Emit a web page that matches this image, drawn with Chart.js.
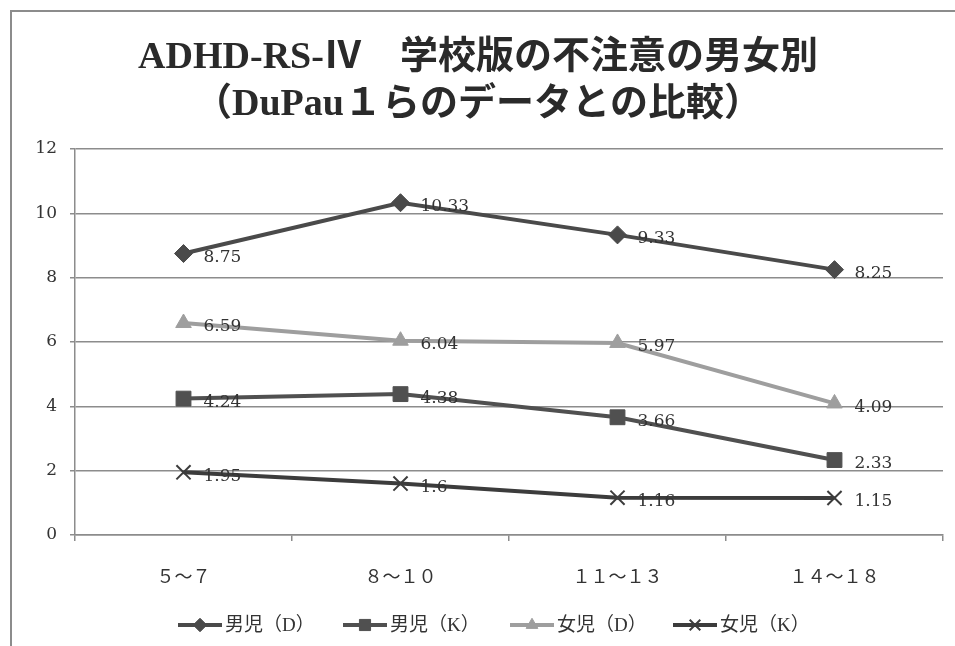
<!DOCTYPE html>
<html>
<head>
<meta charset="utf-8">
<script src="https://cdn.jsdelivr.net/npm/chart.js@4/dist/chart.umd.min.js"></script>
<style>
  html, body { margin: 0; padding: 0; background: #fff; }
  #wrap { width: 955px; height: 646px; position: relative; }
</style>
</head>
<body>
<div id="wrap"><canvas id="c" width="955" height="646"></canvas></div>
<script>
// Age bands (x axis)
const categories = ['５～７', '８～１０', '１１～１３', '１４～１８'];

// Inattention scores by group
const boysD  = [8.75, 10.33, 9.33, 8.25];
const boysK  = [4.24, 4.38, 3.66, 2.33];
const girlsD = [6.59, 6.04, 5.97, 4.09];
const girlsK = [1.95, 1.6, 1.16, 1.15];

const seriesNames = ['男児（D）', '男児（K）', '女児（D）', '女児（K）'];
const yTicks = [0, 2, 4, 6, 8, 10, 12];

const titleLines = ['ADHD-RS-Ⅳ　学校版の不注意の男女別', '（DuPau１らのデータとの比較）'];

const SERIF = "'Liberation Serif', 'Noto Sans CJK JP', serif";
const NUM = "'DejaVu Serif', 'Noto Sans CJK JP', serif";

// Frame, title, value labels and legend
const decor = {
  id: 'decor',
  beforeDraw(chart) {
    const ctx = chart.ctx;
    ctx.save();
    ctx.fillStyle = '#fff';
    ctx.fillRect(0, 0, chart.width, chart.height);
    ctx.strokeStyle = '#8c8c8c';
    ctx.lineWidth = 2;
    ctx.beginPath();
    ctx.moveTo(11, chart.height);
    ctx.lineTo(11, 11);
    ctx.lineTo(chart.width, 11);
    ctx.stroke();
    ctx.restore();
  },
  afterDatasetsDraw(chart) {
    const ctx = chart.ctx;
    ctx.save();
    // value labels
    ctx.font = '17px ' + NUM;
    ctx.fillStyle = '#333';
    ctx.textAlign = 'left';
    ctx.textBaseline = 'middle';
    chart.data.datasets.forEach((ds, i) => {
      const meta = chart.getDatasetMeta(i);
      meta.data.forEach((pt, j) => {
        ctx.fillText(String(ds.data[j]), pt.x + 20, pt.y + 4);
      });
    });
    ctx.restore();
  },
  afterDraw(chart) {
    const ctx = chart.ctx;
    ctx.save();
    // title
    ctx.fillStyle = '#2a2a2a';
    ctx.textAlign = 'center';
    ctx.textBaseline = 'middle';
    ctx.font = 'bold 38px ' + SERIF;
    ctx.fillText(titleLines[0], 478, 58);
    ctx.fillText(titleLines[1], 478, 105);

    // legend
    const items = chart.data.datasets;
    const starts = [178, 343, 510, 673];
    const ly = 625;
    ctx.font = '19px ' + SERIF;
    ctx.textAlign = 'left';
    items.forEach((ds, i) => {
      const x0 = starts[i];
      ctx.strokeStyle = ds.borderColor;
      ctx.lineWidth = 4;
      ctx.beginPath();
      ctx.moveTo(x0, ly);
      ctx.lineTo(x0 + 44, ly);
      ctx.stroke();
      ctx.fillStyle = ds.pointBackgroundColor;
      ctx.strokeStyle = ds.pointBorderColor;
      ctx.lineWidth = ds.pointBorderWidth;
      Chart.helpers.drawPoint(ctx, {
        pointStyle: ds.pointStyle,
        radius: ds.pointRadius * 0.75,
        rotation: 0,
        borderWidth: ds.pointBorderWidth
      }, x0 + 22, ly);
      ctx.fillStyle = '#333';
      ctx.fillText(ds.label, x0 + 47, ly + 1);
    });
    ctx.restore();
  }
};

function series(label, data, color, style, radius) {
  return {
    label, data,
    borderColor: color,
    backgroundColor: color,
    pointBackgroundColor: color,
    pointBorderColor: color,
    pointStyle: style,
    pointRadius: radius,
    pointHoverRadius: radius,
    pointBorderWidth: style === 'crossRot' ? 2 : 1,
    borderWidth: 4,
    tension: 0,
    fill: false
  };
}

new Chart(document.getElementById('c'), {
  type: 'line',
  data: {
    labels: categories,
    datasets: [
      series(seriesNames[0], boysD,  '#4a4a4a', 'rectRot', 9),
      series(seriesNames[1], boysK,  '#505050', 'rect', 10.5),
      series(seriesNames[2], girlsD, '#9e9e9e', 'triangle', 9),
      series(seriesNames[3], girlsK, '#3c3c3c', 'crossRot', 10)
    ]
  },
  options: {
    responsive: false,
    animation: false,
    devicePixelRatio: 1,
    layout: { padding: { top: 149, left: 10, right: 11, bottom: 0 } },
    plugins: {
      legend: { display: false },
      title: { display: false },
      tooltip: { enabled: false }
    },
    scales: {
      x: {
        type: 'category',
        offset: true,
        grid: {
          offset: true,
          drawOnChartArea: false,
          drawTicks: true,
          tickLength: 6,
          color: '#8c8c8c',
          lineWidth: 1.5
        },
        border: { color: '#8c8c8c', width: 1.5 },
        ticks: {
          padding: 26,
          color: '#333',
          font: { family: SERIF, size: 18 }
        },
        afterFit(scale) { scale.height = 111; }
      },
      y: {
        min: 0,
        max: 12,
        afterBuildTicks(scale) { scale.ticks = yTicks.map(v => ({ value: v })); },
        grid: {
          color: '#8c8c8c',
          lineWidth: 1.5,
          tickLength: 5
        },
        border: { color: '#8c8c8c', width: 1.5 },
        ticks: {
          padding: 13,
          color: '#333',
          font: { family: NUM, size: 17 }
        },
        afterFit(scale) { scale.width = 65; }
      }
    }
  },
  plugins: [decor]
});
</script>
</body>
</html>
